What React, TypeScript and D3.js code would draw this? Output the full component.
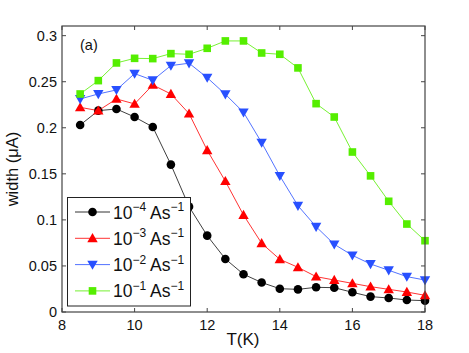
import React from "react";
import * as d3 from "d3";

const temps = [8.5, 9, 9.5, 10, 10.5, 11, 11.5, 12, 12.5, 13, 13.5, 14, 14.5, 15, 15.5, 16, 16.5, 17, 17.5, 18];
const s4 = [0.203, 0.2186, 0.2204, 0.2117, 0.2009, 0.16, 0.1144, 0.0829, 0.0576, 0.041, 0.032, 0.0253, 0.0246, 0.0268, 0.0264, 0.0214, 0.0167, 0.0152, 0.013, 0.0123];
const s3 = [0.2222, 0.2186, 0.2313, 0.2259, 0.2465, 0.2367, 0.2154, 0.1756, 0.142, 0.1053, 0.0746, 0.0572, 0.0485, 0.0384, 0.0347, 0.0311, 0.0275, 0.0246, 0.0217, 0.0181];
const s2 = [0.2313, 0.2367, 0.2411, 0.2588, 0.2516, 0.2675, 0.2701, 0.2544, 0.2364, 0.2168, 0.1839, 0.1478, 0.1154, 0.0926, 0.0735, 0.0615, 0.0521, 0.0453, 0.0384, 0.0347];
const s1 = [0.2367, 0.2512, 0.2704, 0.2754, 0.2751, 0.2805, 0.2798, 0.2863, 0.2943, 0.2943, 0.2812, 0.2798, 0.265, 0.2262, 0.2117, 0.1737, 0.1478, 0.1202, 0.0955, 0.0774];
const exps = ["−4", "−3", "−2", "−1"];
const colors = ["#000000", "#ff0000", "#2850ff", "#55ee00"];
const markers = ["circle", "triangleUp", "triangleDown", "square"];
const xTicks = [8, 10, 12, 14, 16, 18];
const yTicks = [0, 0.05, 0.1, 0.15, 0.2, 0.25, 0.3];

const W = 469, H = 353;
const L = 62, R = 425, T = 26, B = 312;
const font = "'Liberation Sans', Arial, Helvetica, sans-serif";

function Marker({ type, x, y, color }: { type: string; x: number; y: number; color: string }) {
  if (type === "circle") return <circle cx={x} cy={y} r={4.3} fill={color} />;
  if (type === "square") return <rect x={x - 3.8} y={y - 3.8} width={7.6} height={7.6} fill={color} />;
  const s = 5.2;
  if (type === "triangleUp")
    return <path d={`M${x},${y - s} L${x + s},${y + s * 0.75} L${x - s},${y + s * 0.75} Z`} fill={color} />;
  return <path d={`M${x},${y + s} L${x + s},${y - s * 0.75} L${x - s},${y - s * 0.75} Z`} fill={color} />;
}

export default function App() {
  const x = d3.scaleLinear().domain([8, 18]).range([L, R]);
  const y = d3.scaleLinear().domain([0, 0.3105]).range([B, T]);
  const series = [s4, s3, s2, s1];
  const line = d3.line<number>().x((_, i) => x(temps[i])).y((d) => y(d));
  const axisColor = "#444";
  const tl = 4;
  return (
    <svg width={W} height={H} style={{ position: "absolute", left: 0, top: 0, background: "#fff" }} fontFamily={font}>
      <rect x={0} y={0} width={W} height={H} fill="#fff" />
      {series.map((s, k) => (
        <g key={k}>
          <path d={line(s) || ""} fill="none" stroke={colors[k]} strokeWidth={1} opacity={k === 0 ? 0.75 : 0.8} />
          {s.map((v, i) => (
            <Marker key={i} type={markers[k]} x={x(temps[i])} y={y(v)} color={colors[k]} />
          ))}
        </g>
      ))}
      <rect x={L} y={T} width={R - L} height={B - T} fill="none" stroke={axisColor} strokeWidth={1.2} />
      {xTicks.map((t) => (
        <g key={t}>
          <line x1={x(t)} x2={x(t)} y1={B} y2={B - tl} stroke={axisColor} />
          <line x1={x(t)} x2={x(t)} y1={T} y2={T + tl} stroke={axisColor} />
          <text x={x(t)} y={B + 17.5} fontSize={14.5} textAnchor="middle" fill="#111">{t}</text>
        </g>
      ))}
      {yTicks.map((t) => (
        <g key={t}>
          <line x1={L} x2={L + tl} y1={y(t)} y2={y(t)} stroke={axisColor} />
          <line x1={R} x2={R - tl} y1={y(t)} y2={y(t)} stroke={axisColor} />
          <text x={L - 5} y={y(t) + 5} fontSize={14.5} textAnchor="end" fill="#111">{String(t)}</text>
        </g>
      ))}
      <text x={243} y={345} fontSize={17} textAnchor="middle" fill="#111">T(K)</text>
      <text transform={`translate(18,${(T + B) / 2}) rotate(-90)`} fontSize={16.5} textAnchor="middle" fill="#111">width (μA)</text>
      <text x={80} y={50} fontSize={14.5} fill="#111">(a)</text>
      <g>
        <rect x={67.5} y={197.5} width={123} height={108.5} fill="#fff" stroke="#222" strokeWidth={1} />
        {exps.map((e, k) => {
          const ly = 212 + k * 26.3;
          return (
            <g key={k}>
              <line x1={75} x2={110} y1={ly} y2={ly} stroke={colors[k]} strokeWidth={1} opacity={0.8} />
              <Marker type={markers[k]} x={92.5} y={ly} color={colors[k]} />
              <text x={113} y={ly + 6.5} fontSize={17.5} fill="#111">
                10<tspan fontSize={12} dy={-7.5}>{e}</tspan>
                <tspan dy={7.5}> As</tspan>
                <tspan fontSize={12} dy={-7.5}>−1</tspan>
              </text>
            </g>
          );
        })}
      </g>
    </svg>
  );
}
